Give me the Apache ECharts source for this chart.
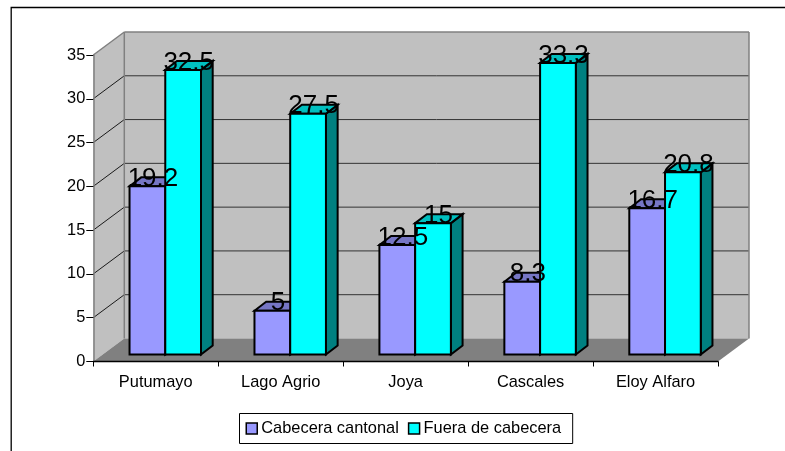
<!DOCTYPE html>
<html>
<head>
<meta charset="utf-8">
<style>html,body{margin:0;padding:0;background:#fff}#c{width:785px;height:451px}</style>
<script src="https://cdn.jsdelivr.net/npm/echarts@6/dist/echarts.min.js"></script>
</head>
<body>
<div id="c"></div>
<script>
const categories = ['Putumayo', 'Lago Agrio', 'Joya', 'Cascales', 'Eloy Alfaro'];
const cabecera = [19.2, 5, 12.5, 8.3, 16.7];
const fuera = [32.5, 27.5, 15, 33.3, 20.8];
const yTicks = [0, 5, 10, 15, 20, 25, 30, 35];

const DX = 31, DY = 23;            // full depth of the floor
const FDX = 9.5, FDY = 7;          // bar front offset from the axis plane
const BDX = 11.7, BDY = 9;         // bar depth
const FONT = '"Liberation Sans", Arial, sans-serif';

function poly(points, fill, stroke, lw) {
  return { type: 'polygon', shape: { points }, style: { fill, stroke: stroke || null, lineWidth: lw || 0, lineJoin: 'miter' } };
}
function line(x1, y1, x2, y2, stroke, lw) {
  return { type: 'line', shape: { x1, y1, x2, y2 }, style: { stroke, lineWidth: lw, fill: null } };
}

function renderWalls(params, api) {
  const cs = params.coordSys;
  const l = cs.x, r = cs.x + cs.width, b = api.coord([0, 0])[1], t = api.coord([0, 35])[1];
  const ch = [];
  ch.push(poly([[l, t], [l + DX, t - DY], [l + DX, b - DY], [l, b]], '#C0C0C0'));
  ch.push(poly([[l + DX, t - DY], [r + DX, t - DY], [r + DX, b - DY], [l + DX, b - DY]], '#C0C0C0'));
  ch.push(poly([[l, b], [r, b], [r + DX, b - DY], [l + DX, b - DY]], '#808080'));
  yTicks.forEach(v => {
    if (v === 0 || v === 35) return;
    const y = api.coord([0, v])[1];
    ch.push(line(l, y, l + DX, y - DY, '#1a1a1a', 1));
    ch.push(line(l + DX, y - DY, r + DX, y - DY, '#333', 1));
  });
  ch.push(line(l, t, l + DX, t - DY, '#808080', 1.5));
  ch.push(line(l + DX, t - DY, r + DX, t - DY, '#808080', 1.5));
  ch.push(line(l + DX, t - DY, l + DX, b - DY, '#808080', 1.5));
  ch.push(line(r + DX, t - DY, r + DX, b - DY, '#808080', 1.5));
  return { type: 'group', children: ch };
}

function barRenderer(side, front, top, right) {
  return function (params, api) {
    const cat = api.value(0), val = api.value(1);
    const c = api.coord([cat, val]);
    const base = api.coord([cat, 0])[1];
    const band = api.size([1, 0])[0];
    const w = band * 0.286;
    const x0 = c[0] + FDX + (side === 0 ? -w : 0), x1 = x0 + w;
    const yt = c[1] - FDY, yb = base - FDY;
    const s = { stroke: '#000', lw: 2 };
    return {
      type: 'group',
      children: [
        poly([[x1, yt], [x1 + BDX, yt - BDY], [x1 + BDX, yb - BDY], [x1, yb]], right, s.stroke, s.lw),
        poly([[x0, yt], [x0 + BDX, yt - BDY], [x1 + BDX, yt - BDY], [x1, yt]], top, s.stroke, s.lw),
        poly([[x0, yt], [x1, yt], [x1, yb], [x0, yb]], front, s.stroke, s.lw),
        {
          type: 'text', z2: 100, silent: true,
          style: {
            text: String(val), x: (x0 + x1) / 2 + BDX / 2 - 0.3, y: yt - 7.5,
            fill: '#000', font: '26px ' + FONT, align: 'center', verticalAlign: 'middle'
          }
        }
      ]
    };
  };
}

const chart = echarts.init(document.getElementById('c'), null, { renderer: 'canvas' });
chart.setOption({
  animation: false,
  backgroundColor: '#fff',
  grid: { left: 93.3, right: 67, top: 55, bottom: 89.5, containLabel: false },
  xAxis: {
    type: 'category', data: categories, boundaryGap: true, z: 3,
    axisLine: { show: true, lineStyle: { color: '#000', width: 1.3 } },
    axisTick: { show: true, alignWithLabel: false, length: 5, lineStyle: { color: '#000' } },
    axisLabel: { color: '#000', fontFamily: FONT, fontSize: 16.4, margin: 12.5, interval: 0 }
  },
  yAxis: {
    type: 'value', min: 0, max: 35, interval: 5, z: 3,
    splitLine: { show: false },
    axisLine: { show: true, lineStyle: { color: '#808080', width: 1.5 } },
    axisTick: { show: true, length: 7, lineStyle: { color: '#000' } },
    axisLabel: { color: '#000', fontFamily: FONT, fontSize: 16.4, margin: 8 }
  },
  legend: {
    data: ['Cabecera cantonal', 'Fuera de cabecera'],
    left: 239.5, top: 413.5, orient: 'horizontal', icon: 'rect',
    itemWidth: 11, itemHeight: 11, itemGap: 9,
    padding: [7, 11.5, 7, 6],
    backgroundColor: '#fff', borderColor: '#000', borderWidth: 1, borderRadius: 0,
    itemStyle: { borderColor: '#000', borderWidth: 1.5 },
    textStyle: { color: '#000', fontFamily: FONT, fontSize: 16.4, padding: [0, 0, 0, -1] }
  },
  graphic: [
    { type: 'polyline', silent: true, z: 10, shape: { points: [[11.2, 451], [11.2, 7.5], [785, 7.5]] }, style: { stroke: '#000', lineWidth: 1.3, fill: null } }
  ],
  series: [
    { type: 'custom', z: -1, silent: true, clip: false, renderItem: renderWalls, data: [[0, 0]], encode: { x: 0, y: 1 } },
    {
      name: 'Cabecera cantonal', type: 'custom', z: 2, clip: false, itemStyle: { color: '#9999FF' },
      renderItem: barRenderer(0, '#9999FF', '#7676C5', '#6666AA'),
      data: cabecera.map((v, i) => [i, v]), encode: { x: 0, y: 1 }
    },
    {
      name: 'Fuera de cabecera', type: 'custom', z: 2, clip: false, itemStyle: { color: '#00FFFF' },
      renderItem: barRenderer(1, '#00FFFF', '#00BFBF', '#008080'),
      data: fuera.map((v, i) => [i, v]), encode: { x: 0, y: 1 }
    }
  ]
});
</script>
</body>
</html>
